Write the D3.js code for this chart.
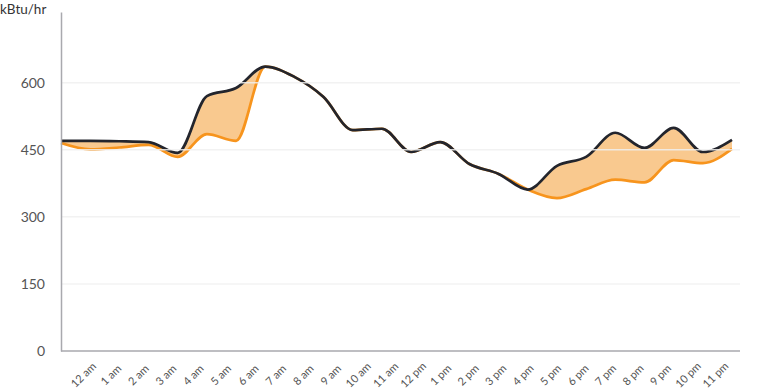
<!DOCTYPE html>
<html>
<head>
<meta charset="utf-8">
<script src="https://cdn.jsdelivr.net/npm/d3@7"></script>
<style>
  body { margin: 0; background: #fff; }
  svg { font-family: Lato, "Open Sans", sans-serif; }
</style>
</head>
<body>
<svg id="chart"></svg>
<script>
// hourly categories
const hours = ["12 am","1 am","2 am","3 am","4 am","5 am","6 am","7 am","8 am","9 am","10 am","11 am",
               "12 pm","1 pm","2 pm","3 pm","4 pm","5 pm","6 pm","7 pm","8 pm","9 pm","10 pm","11 pm"];
// upper (dark) series, kBtu/hr
const actual = [470, 470, 469, 467, 443, 570, 588, 636, 613, 568, 494, 497,
                445, 467, 418, 396, 361, 414, 434, 488, 454, 499, 445, 472];
// lower (orange) series, kBtu/hr
const baseline = [465, 451, 455, 461, 434, 485, 470, 636, 613, 568, 494, 497,
                  445, 467, 418, 396, 361, 342, 362, 383, 377, 427, 420, 452];
const yTicks = [0, 150, 300, 450, 600];

const W = 757, H = 391;
const margin = { top: 12, right: 17, bottom: 40, left: 61 };
const width = W - margin.left - margin.right;
const height = H - margin.top - margin.bottom;

const svg = d3.select("#chart").attr("width", W).attr("height", H);
const g = svg.append("g").attr("transform", `translate(${margin.left},${margin.top})`);

const data = hours.map((h, i) => ({ h, a: actual[i], b: baseline[i] }));

// x for the marks, x for the labels
const x = d3.scalePoint().domain(hours).range([0, 671]);
const xLab = d3.scalePoint().domain(hours).range([0, 676]).padding(0.8);
const y = d3.scaleLinear().domain([0, 758]).range([height, 0]);

// area between the two series
g.append("path")
  .datum(data)
  .attr("fill", "#f9c98f")
  .attr("d", d3.area().curve(d3.curveMonotoneX)
    .x(d => x(d.h)).y0(d => y(d.b)).y1(d => y(d.a)));

g.append("path")
  .datum(data)
  .attr("fill", "none")
  .attr("stroke", "#f7941d")
  .attr("stroke-width", 2.7)
  .attr("d", d3.line().curve(d3.curveMonotoneX).x(d => x(d.h)).y(d => y(d.b)));

g.append("path")
  .datum(data)
  .attr("fill", "none")
  .attr("stroke", "#23252d")
  .attr("stroke-width", 2.7)
  .attr("d", d3.line().curve(d3.curveMonotoneX).x(d => x(d.h)).y(d => y(d.a)));

// gridlines sit on top, semi-transparent
g.append("g")
  .selectAll("line")
  .data(yTicks.filter(t => t > 0))
  .join("line")
  .attr("x1", 0).attr("x2", width)
  .attr("y1", d => y(d)).attr("y2", d => y(d))
  .attr("stroke", "#f0f0f0")
  .attr("stroke-opacity", 0.85)
  .attr("stroke-width", 1.5);

// y axis
const yAxisG = g.append("g")
  .call(d3.axisLeft(y).tickValues(yTicks).tickSize(0).tickPadding(16));
yAxisG.select(".domain").attr("stroke", "#a9a9ae").attr("stroke-width", 1.5);
yAxisG.selectAll("text")
  .attr("fill", "#555")
  .style("font-size", "14px")
  .style("font-family", "Lato, sans-serif");

// x axis
const xAxisG = g.append("g")
  .attr("transform", `translate(0,${height})`)
  .call(d3.axisBottom(xLab).tickSize(0));
xAxisG.select(".domain").attr("stroke", "#a9a9ae").attr("stroke-width", 1.5)
  .attr("d", `M0,0H${width}`);
xAxisG.selectAll("text")
  .attr("y", 0)
  .attr("dy", "0.35em")
  .attr("text-anchor", "middle")
  .attr("transform", "translate(0,24) rotate(-45)")
  .attr("fill", "#555")
  .style("font-size", "11px")
  .style("font-family", "Lato, sans-serif");

// unit label
svg.append("text")
  .attr("x", 0)
  .attr("y", 14)
  .attr("fill", "#333")
  .style("font-size", "13.5px")
  .text("kBtu/hr");
</script>
</body>
</html>
